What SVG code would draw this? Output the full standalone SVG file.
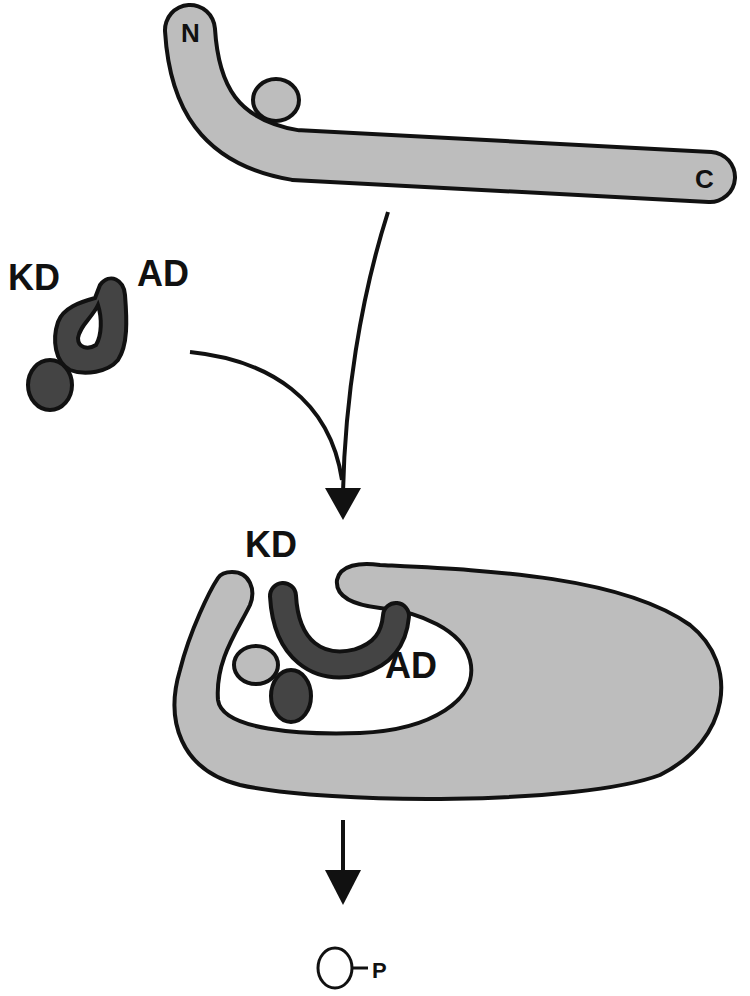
<svg xmlns="http://www.w3.org/2000/svg" width="750" height="996" viewBox="0 0 750 996">
<style>
.lbl{font-family:"Liberation Sans",Arial,sans-serif;font-weight:bold;fill:#111}
.ol{fill:none;stroke:#111;stroke-linecap:round}
.gr{fill:none;stroke:#bdbdbd;stroke-linecap:round}
.dk{fill:#444;stroke:#111;stroke-width:4}
.lt{fill:#bdbdbd;stroke:#111;stroke-width:4}
.con{fill:none;stroke:#111;stroke-width:4}
</style>
<rect width="750" height="996" fill="#fff"/>
<g id="substrate">
<ellipse class="lt" cx="276" cy="100" rx="23" ry="21"/>
<path class="ol" stroke-width="54" d="M190,30 C194,95 218,142 295,155 L710,177"/>
<path class="gr" stroke-width="46" d="M190,30 C194,95 218,142 295,155 L710,177"/>
<text class="lbl" x="181" y="42" font-size="26">N</text>
<text class="lbl" x="695" y="188" font-size="26">C</text>
</g>
<g id="kinase">
<ellipse class="dk" cx="50" cy="385" rx="22" ry="25"/>
<path class="dk" fill-rule="evenodd" d="M100,285 C110,272 124,280 125,295 C127,320 128,345 118,360 C108,372 85,376 70,370 C55,362 52,340 58,322 C63,308 80,302 95,298 Z M98,305 C92,318 80,325 78,338 C78,348 88,350 96,345 C102,335 102,318 98,305 Z"/>
<text class="lbl" x="8" y="290" font-size="36">KD</text>
<text class="lbl" x="137" y="286" font-size="36">AD</text>
</g>
<g id="complex">
<path class="lt" d="M232,572 C250,572 256,590 250,605 C238,630 215,660 218,700 C222,730 300,735 360,733 C430,730 480,700 470,660 C462,630 420,612 380,608 C355,605 335,598 337,580 C340,565 360,562 380,565 C480,570 620,575 690,625 C740,665 730,740 660,775 C580,805 330,805 240,785 C180,770 165,720 180,670 C190,630 210,590 218,578 C222,572 228,572 232,572 Z"/>
<ellipse class="lt" cx="256" cy="665" rx="22" ry="19"/>
<path class="ol" stroke-width="30" d="M283,596 C286,650 318,672 358,662 C384,654 394,638 396,616"/>
<path fill="none" stroke="#444" stroke-width="22" stroke-linecap="round" d="M283,596 C286,650 318,672 358,662 C384,654 394,638 396,616"/>
<ellipse class="dk" cx="291" cy="696" rx="20" ry="26"/>
<text class="lbl" x="245" y="557" font-size="36">KD</text>
<text class="lbl" x="385" y="678" font-size="36">AD</text>
</g>
<g id="product">
<ellipse fill="#fff" stroke="#111" stroke-width="3" cx="335" cy="968" rx="17" ry="20"/>
<line x1="352" y1="968" x2="368" y2="968" stroke="#111" stroke-width="3"/>
<text class="lbl" x="372" y="978" font-size="22">P</text>
</g>
<g id="connectors">
<path class="con" d="M388,212 C360,300 345,400 343,492"/>
<path class="con" d="M190,352 C270,360 330,400 342,480"/>
<polygon fill="#111" points="325,488 361,488 343,520"/>
<line x1="343" y1="820" x2="343" y2="872" stroke="#111" stroke-width="4"/>
<polygon fill="#111" points="325,870 361,870 343,905"/>
</g>
</svg>
